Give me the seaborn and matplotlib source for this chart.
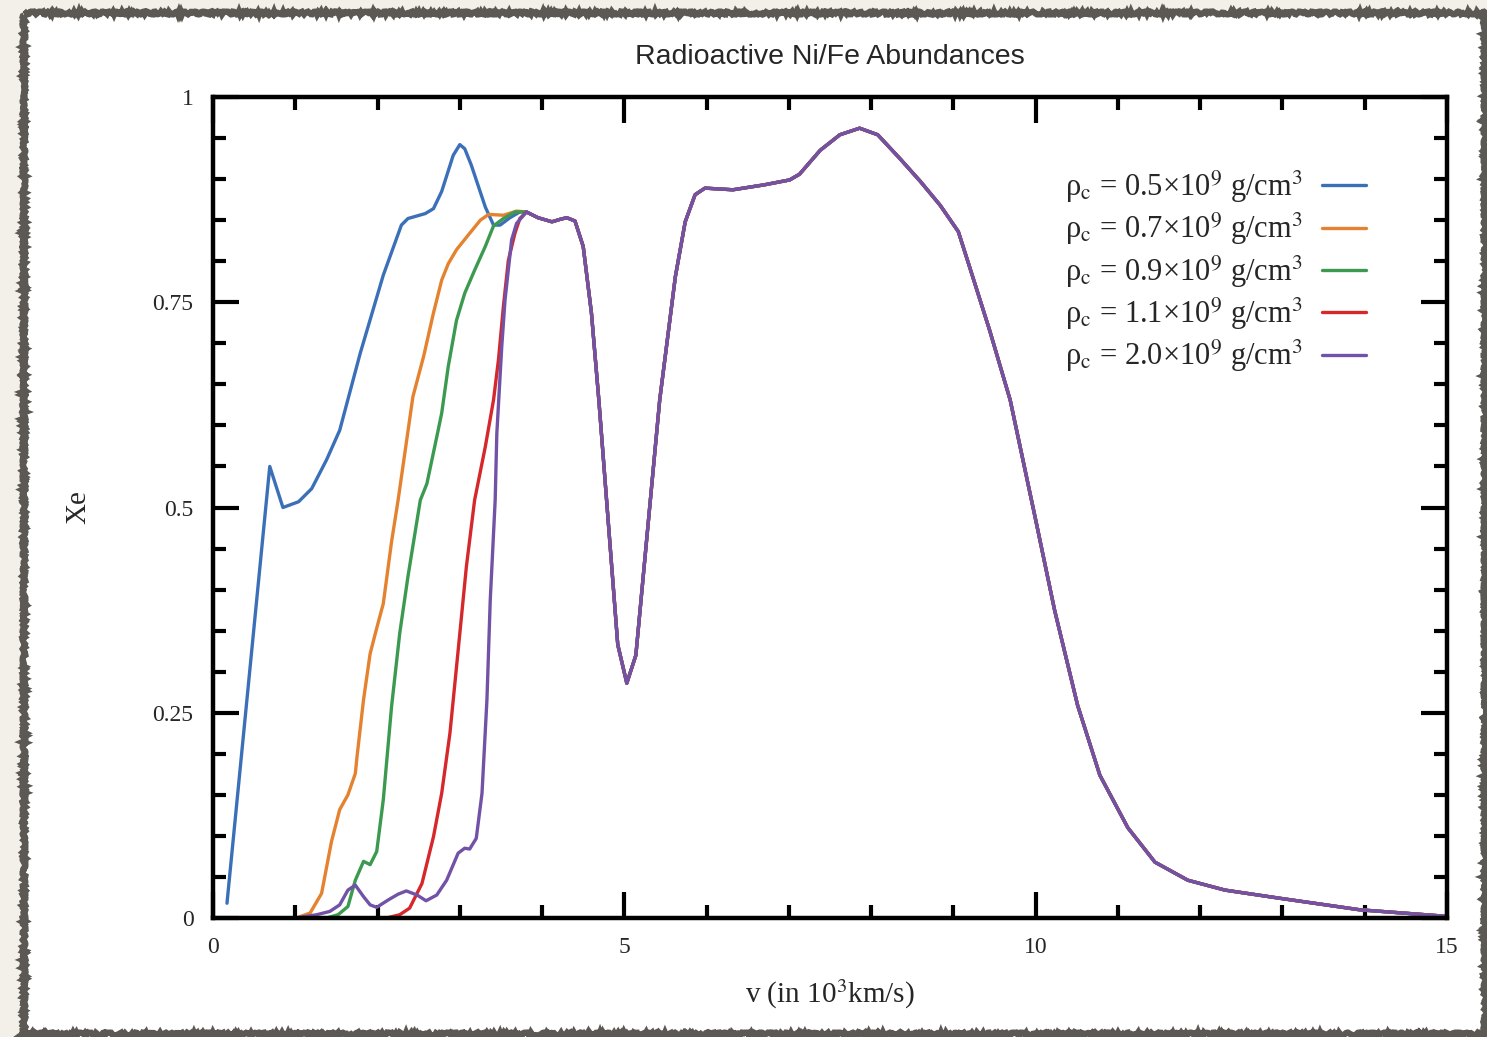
import numpy as np
import pandas as pd
import matplotlib
matplotlib.use("Agg")
import matplotlib.pyplot as plt
from matplotlib.patches import Rectangle
from matplotlib.ticker import MultipleLocator, FixedLocator
import seaborn as sns

# Electron fraction profiles vs. velocity for several central densities.
# Each density has its own inner profile; outside ~3.8e3 km/s all models coincide.
v_05 = [0.17, 0.69, 0.85, 1.04, 1.20, 1.38, 1.54, 1.79, 2.07, 2.29, 2.37, 2.58, 2.68,
        2.78, 2.92, 3.00, 3.06, 3.14, 3.31, 3.41, 3.49, 3.61, 3.73]
x_05 = [0.018, 0.550, 0.500, 0.507, 0.523, 0.558, 0.594, 0.688, 0.783, 0.844, 0.852,
        0.858, 0.864, 0.885, 0.929, 0.942, 0.937, 0.917, 0.866, 0.844, 0.844, 0.853, 0.860]

v_07 = [1.01, 1.18, 1.32, 1.44, 1.54, 1.64, 1.73, 1.75, 1.83, 1.91, 1.99, 2.07, 2.17,
        2.25, 2.43, 2.56, 2.68, 2.78, 2.86, 2.96, 3.12, 3.25, 3.35, 3.53, 3.69]
x_07 = [0.000, 0.006, 0.030, 0.093, 0.132, 0.150, 0.176, 0.196, 0.266, 0.322, 0.353,
        0.383, 0.458, 0.509, 0.635, 0.684, 0.737, 0.777, 0.797, 0.814, 0.834, 0.850,
        0.857, 0.856, 0.861]

v_09 = [1.38, 1.52, 1.64, 1.73, 1.83, 1.91, 1.99, 2.07, 2.17, 2.27, 2.37, 2.52, 2.60,
        2.72, 2.78, 2.86, 2.96, 3.06, 3.18, 3.31, 3.41, 3.53, 3.67]
x_09 = [0.000, 0.004, 0.014, 0.046, 0.069, 0.065, 0.081, 0.144, 0.257, 0.347, 0.416,
        0.509, 0.529, 0.586, 0.615, 0.672, 0.728, 0.761, 0.789, 0.818, 0.843, 0.852, 0.860]

v_11 = [2.11, 2.27, 2.39, 2.54, 2.68, 2.78, 2.88, 2.98, 3.08, 3.18, 3.31, 3.41, 3.47,
        3.53, 3.59, 3.67, 3.73]
x_11 = [0.000, 0.004, 0.012, 0.042, 0.099, 0.152, 0.225, 0.326, 0.428, 0.509, 0.574,
        0.631, 0.680, 0.745, 0.801, 0.834, 0.852]

v_20 = [1.01, 1.26, 1.42, 1.54, 1.64, 1.73, 1.83, 1.91, 1.99, 2.13, 2.25, 2.35, 2.48,
        2.59, 2.72, 2.84, 2.98, 3.06, 3.12, 3.20, 3.27, 3.33, 3.37, 3.43, 3.45, 3.51,
        3.55, 3.63, 3.69]
x_20 = [0.000, 0.004, 0.008, 0.016, 0.034, 0.040, 0.026, 0.016, 0.013, 0.022, 0.029,
        0.033, 0.028, 0.021, 0.028, 0.046, 0.079, 0.085, 0.084, 0.097, 0.152, 0.266,
        0.387, 0.509, 0.590, 0.696, 0.753, 0.826, 0.846]

# Shared outer profile
v_tail = [3.81, 3.95, 4.12, 4.22, 4.30, 4.40, 4.50, 4.60, 4.69, 4.92, 5.03, 5.14, 5.43,
          5.62, 5.74, 5.86, 5.98, 6.32, 6.70, 7.01, 7.13, 7.38, 7.62, 7.86, 8.08, 8.35,
          8.60, 8.84, 9.06, 9.20, 9.44, 9.69, 10.00, 10.23, 10.51, 10.78, 11.12, 11.45,
          11.85, 12.30, 12.97, 13.94, 15.00]
x_tail = [0.860, 0.853, 0.848, 0.851, 0.853, 0.849, 0.818, 0.737, 0.631, 0.333, 0.286,
          0.320, 0.631, 0.781, 0.848, 0.881, 0.889, 0.887, 0.893, 0.899, 0.906, 0.935,
          0.954, 0.962, 0.954, 0.925, 0.897, 0.868, 0.836, 0.792, 0.716, 0.631, 0.485,
          0.375, 0.259, 0.174, 0.110, 0.068, 0.046, 0.034, 0.024, 0.010, 0.002]

labels = [
    "ρ$_\\mathrm{c}$ = 0.5×10$^\\mathrm{9}$ g/cm$^\\mathrm{3}$",
    "ρ$_\\mathrm{c}$ = 0.7×10$^\\mathrm{9}$ g/cm$^\\mathrm{3}$",
    "ρ$_\\mathrm{c}$ = 0.9×10$^\\mathrm{9}$ g/cm$^\\mathrm{3}$",
    "ρ$_\\mathrm{c}$ = 1.1×10$^\\mathrm{9}$ g/cm$^\\mathrm{3}$",
    "ρ$_\\mathrm{c}$ = 2.0×10$^\\mathrm{9}$ g/cm$^\\mathrm{3}$",
]
colors = ["#3b70b9", "#e5822f", "#3b9a50", "#d6282b", "#7252a6"]

inner = [(v_05, x_05), (v_07, x_07), (v_09, x_09), (v_11, x_11), (v_20, x_20)]
frames = []
for lab, (vv, xx) in zip(labels, inner):
    frames.append(pd.DataFrame({"v": list(vv) + v_tail,
                                "Xe": list(xx) + x_tail,
                                "model": lab}))
df = pd.concat(frames, ignore_index=True)

sns.set_style("ticks")
plt.rcParams["font.family"] = ["Liberation Serif", "DejaVu Serif"]
plt.rcParams["mathtext.fontset"] = "stix"

fig = plt.figure(figsize=(14.87, 10.37), dpi=100)
fig.patch.set_facecolor("#f3f0e9")

# Card background with a rough grey outline
card = Rectangle((24 / 1487, 3 / 1037), 1461 / 1487, 1021 / 1037,
                 transform=fig.transFigure, facecolor="white",
                 edgecolor="#5c5955", linewidth=4.5, zorder=-10)
card.set_sketch_params(scale=1.4, length=4, randomness=6)
fig.patches.append(card)

ax = fig.add_axes([213 / 1487, 1 - 918 / 1037, (1447 - 213) / 1487, (918 - 97) / 1037])
ax.set_zorder(1)
ax.set_facecolor("white")

sns.lineplot(data=df, x="v", y="Xe", hue="model", palette=colors, sort=False,
             estimator=None, linewidth=2.4, ax=ax, legend=True)

ax.set_xlim(0, 15)
ax.set_ylim(0, 1)

ax.xaxis.set_major_locator(FixedLocator([0, 5, 10, 15]))
ax.xaxis.set_minor_locator(MultipleLocator(1))
ax.yaxis.set_major_locator(FixedLocator([0, 0.25, 0.5, 0.75, 1]))
ax.yaxis.set_minor_locator(MultipleLocator(0.05))
ax.set_xticklabels(["0", "5", "10", "15"])
ax.set_yticklabels(["0", "0.25", "0.5", "0.75", "1"])

ax.tick_params(which="both", direction="in", top=True, right=True, width=3.0,
               color="black", labelsize=17)
ax.tick_params(which="major", length=19, pad=14)
ax.tick_params(which="minor", length=9.5)
for s in ax.spines.values():
    s.set_linewidth(3.2)
    s.set_color("black")

ax.set_xlabel("v (in 10$^\\mathrm{3}$km/s)", fontsize=21, labelpad=14)
ax.set_ylabel("Xe", fontsize=21, labelpad=44)

ax.set_title("Radioactive Ni/Fe Abundances", family=["Liberation Sans", "DejaVu Sans"],
             fontsize=20.5, pad=24)

leg = ax.legend(loc="upper right", bbox_to_anchor=(0.957, 0.946), frameon=False,
                markerfirst=False, fontsize=22, handlelength=1.47, handletextpad=0.62,
                labelspacing=0.2)
for line in leg.get_lines():
    line.set_linewidth(2.4)

fig.savefig("out.png", dpi=100, facecolor=fig.get_facecolor())
